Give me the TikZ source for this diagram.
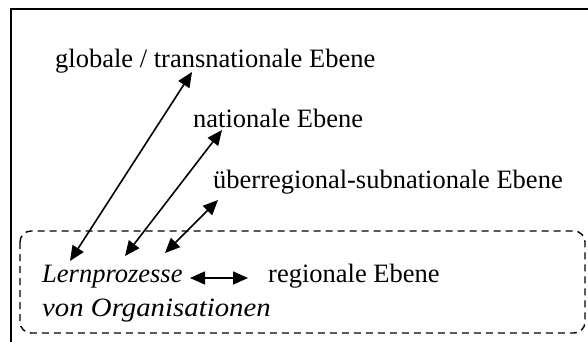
\documentclass[tikz,border=0pt]{standalone}
\usepackage{fontspec}
\setmainfont{Liberation Serif}
\usetikzlibrary{arrows.meta}
\begin{document}
\begin{tikzpicture}[x=1pt,y=-1pt,
  lbl/.style={anchor=base west,inner sep=0pt,font=\fontsize{26.5}{34}\selectfont},
  conn/.style={line width=1.6pt,{Triangle[length=15pt,width=13pt]}-{Triangle[length=15pt,width=13pt]}},
  frame/.style={line width=1.5pt},
  region/.style={line width=1.4pt,dash pattern=on 7pt off 5pt,rounded corners=11pt}]
\useasboundingbox (0,0) rectangle (588,342);
\clip (0,0) rectangle (588,342);
\draw[frame] (11,9) rectangle (600,360);
\draw[region] (20,231) rectangle (585,333);
\node[lbl] (glob) at (55,68) {globale / transnationale Ebene};
\node[lbl] (nat) at (193,128) {nationale Ebene};
\node[lbl] (ueb) at (213,188) {überregional-subnationale Ebene};
\node[lbl] (lern) at (42,282) {\itshape Lernprozesse};
\node[lbl] (von) at (42,316) {\itshape\scalebox{1.087}[1]{von Organisationen}};
\node[lbl] (reg) at (268,282) {regionale Ebene};
\coordinate (g1) at (70,261);
\coordinate (g2) at (192,72);
\coordinate (n1) at (125,256);
\coordinate (n2) at (222,130);
\coordinate (u1) at (165,253);
\coordinate (u2) at (218,200);
\coordinate (h1) at (190,278);
\coordinate (h2) at (248,278);
\draw[conn] (g1) -- (g2);
\draw[conn] (n1) -- (n2);
\draw[conn] (u1) -- (u2);
\draw[conn] (h1) -- (h2);
\end{tikzpicture}
\end{document}
